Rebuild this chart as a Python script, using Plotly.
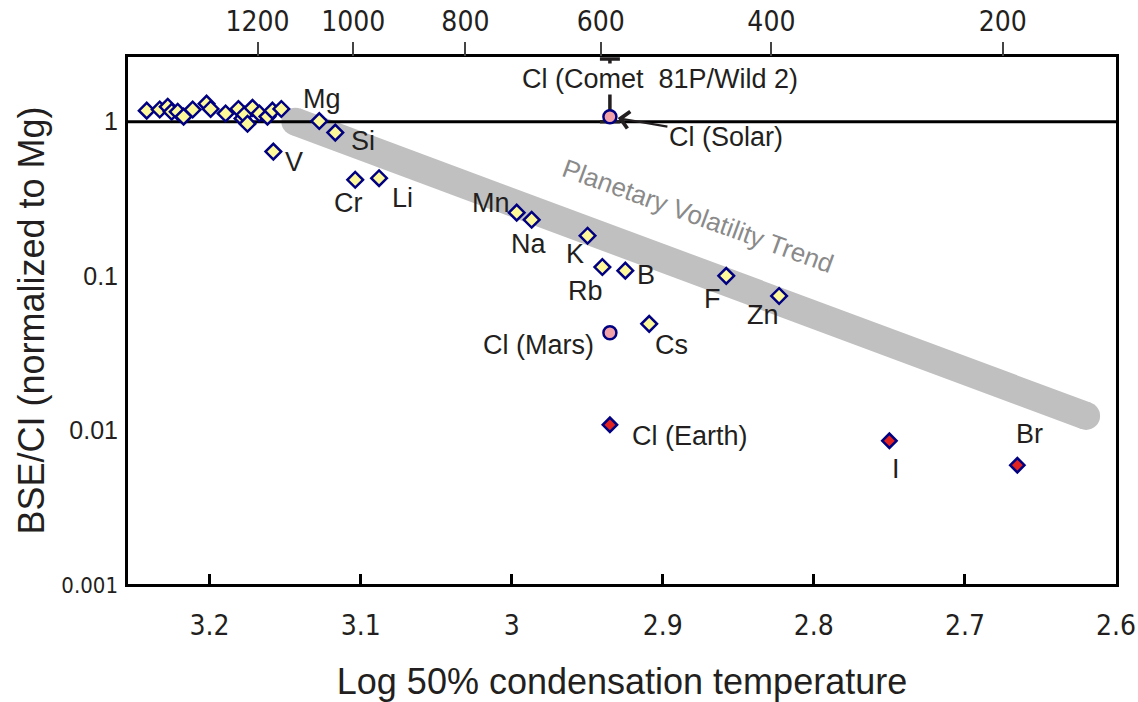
import numpy as np
import plotly.graph_objects as go

# ---------------- data ----------------
x_range = [3.254, 2.6]            # log10 50% condensation temperature (K)
y_log_range = [-3, 0.42]          # log10 of BSE/CI
bottom_tickvals = [3.2, 3.1, 3.0, 2.9, 2.8, 2.7, 2.6]
bottom_ticktext = ["3.2", "3.1", "3", "2.9", "2.8", "2.7", "2.6"]
top_temps_c = [1200, 1000, 800, 600, 400, 200]
y_tickvals = [1, 0.1, 0.01, 0.001]
ref_level = 1.0

# unlabelled refractory elements near 1
cluster_x = [3.2416, 3.2330, 3.2277, 3.2251, 3.2211, 3.2172, 3.2112, 3.2020, 3.1993, 3.1894,
             3.1809, 3.1782, 3.1769, 3.1749, 3.1716, 3.1670, 3.1617, 3.1584, 3.1525]
cluster_y = [1.18, 1.20, 1.25, 1.16, 1.16, 1.08, 1.20, 1.31, 1.21, 1.13,
             1.21, 1.05, 1.11, 0.97, 1.23, 1.13, 1.08, 1.18, 1.21]

elem_names = ["Mg", "Si", "V", "Cr", "Li", "Mn", "Na", "K", "Rb", "B", "F", "Zn", "Cs"]
elem_x = [3.1274, 3.1168, 3.1578, 3.1036, 3.0878, 2.9967, 2.9868, 2.9498, 2.9400, 2.9248, 2.8580, 2.8230, 2.9090]
elem_y = [1.01, 0.85, 0.64, 0.42, 0.43, 0.257, 0.231, 0.182, 0.114, 0.108, 0.100, 0.074, 0.0488]

halogen_names = ["Cl (Earth)", "I", "Br"]
halogen_x = [2.935, 2.750, 2.6653]
halogen_y = [0.0108, 0.0085, 0.0059]

cl_x = 2.935
cl_names = ["Cl (Solar)", "Cl (Mars)"]
cl_y = [1.077, 0.0427]
comet_low = 1.0
comet_high = 2.55

trend_x = [3.1432, 2.6198]
trend_y = [1.0, 0.01233]

# ---------------- styles ----------------
SANS = "Liberation Sans, Arial, sans-serif"
NARROW = "Liberation Sans Narrow, Arial Narrow, DejaVu Sans Condensed, sans-serif"
INK = "#231f20"
NAVY = "#000080"
LBL = 27

# label offsets (px) relative to each marker: (dx, dy_down, xanchor)
elem_offsets = {
    "Mg": (3, -22, "center"), "Si": (28, 8, "center"), "V": (21, 10, "center"),
    "Cr": (-7, 23, "center"), "Li": (23, 20, "center"), "Mn": (-26, -10, "center"),
    "Na": (-3, 24, "center"), "K": (-13, 18, "center"), "Rb": (-17, 24, "center"),
    "B": (21, 4, "center"), "F": (-14, 23, "center"), "Zn": (-16, 19, "center"),
    "Cs": (22, 21, "center"),
    "Cl (Earth)": (20, 11, "left"), "I": (7, 28, "center"), "Br": (12, -31, "center"),
    "Cl (Mars)": (-14, 12, "right"),
}

fig = go.Figure()

# planetary volatility trend band
fig.add_trace(go.Scatter(
    x=trend_x, y=trend_y, mode="lines+markers",
    line=dict(color="#c0c0c0", width=28),
    marker=dict(color="#c0c0c0", size=28, line=dict(width=0)),
    hoverinfo="skip", showlegend=False))

# reference level line (CI = 1)
fig.add_trace(go.Scatter(
    x=x_range, y=[ref_level, ref_level], mode="lines",
    line=dict(color="black", width=3), hoverinfo="skip", showlegend=False))

# comet error bar
fig.add_trace(go.Scatter(
    x=[cl_x], y=[comet_low], mode="markers",
    marker=dict(size=1, color="rgba(0,0,0,0)"),
    error_y=dict(type="data", symmetric=False, array=[comet_high - comet_low],
                 arrayminus=[0], thickness=3.5, width=10, color=INK),
    showlegend=False))

diamond_yellow = dict(symbol="diamond", size=12, color="#fdf99b", line=dict(color=NAVY, width=2.5))
fig.add_trace(go.Scatter(x=cluster_x, y=cluster_y, mode="markers",
                         marker=diamond_yellow, showlegend=False))
fig.add_trace(go.Scatter(x=elem_x, y=elem_y, mode="markers", text=elem_names,
                         marker=diamond_yellow, showlegend=False))
fig.add_trace(go.Scatter(x=halogen_x, y=halogen_y, mode="markers", text=halogen_names,
                         marker=dict(symbol="diamond", size=11, color="#e3231f",
                                     line=dict(color=NAVY, width=2.5)),
                         showlegend=False))
fig.add_trace(go.Scatter(x=[cl_x] * len(cl_y), y=cl_y, mode="markers", text=cl_names,
                         marker=dict(symbol="circle", size=13, color="#f3a1a9",
                                     line=dict(color=NAVY, width=2.5)),
                         showlegend=False))
# dummy trace for the top temperature axis
fig.add_trace(go.Scatter(x=[], y=[], xaxis="x2", showlegend=False))

# labels
def add_label(name, x, y):
    dx, dy, anchor = elem_offsets[name]
    fig.add_annotation(x=x, y=np.log10(y), text=name, showarrow=False,
                       xanchor=anchor, yanchor="middle", xshift=dx, yshift=-dy,
                       font=dict(family=SANS, size=LBL, color=INK))

for n, x, y in zip(elem_names, elem_x, elem_y):
    add_label(n, x, y)
for n, x, y in zip(halogen_names, halogen_x, halogen_y):
    add_label(n, x, y)
add_label("Cl (Mars)", cl_x, cl_y[1])

# Cl (Solar) with arrow
fig.add_annotation(x=cl_x, y=np.log10(cl_y[0]), text="Cl (Solar)", showarrow=True,
                   ax=116, ay=20, arrowhead=4, arrowsize=1.5, arrowwidth=2.2,
                   arrowcolor=INK, standoff=8,
                   font=dict(family=SANS, size=LBL, color=INK))
# comet label
fig.add_annotation(x=cl_x, y=np.log10(comet_high), text="Cl (Comet\u00a0\u00a081P/Wild 2)",
                   showarrow=False, xanchor="center", yanchor="middle",
                   xshift=50, yshift=-20, bgcolor="white", borderpad=0,
                   font=dict(family=SANS, size=LBL, color=INK))
# trend label
fig.add_annotation(x=2.8766, y=np.log10(0.245), text="Planetary Volatility Trend",
                   showarrow=False, textangle=20,
                   font=dict(family=SANS, size=26, color="#8a8a8a"))

y_ticktext = ["1", "0.1", "0.01",
              "<span style='font-family:Liberation Sans Narrow, Arial Narrow, DejaVu Sans Condensed;font-size:22px'>0.001</span>"]

fig.update_layout(
    width=1138, height=702,
    margin=dict(l=128, r=22, t=57, b=118, autoexpand=False),
    plot_bgcolor="white", paper_bgcolor="white",
    showlegend=False,
    xaxis=dict(range=x_range, tickvals=bottom_tickvals, ticktext=bottom_ticktext,
               automargin=False,
               showgrid=False, zeroline=False,
               showline=True, linewidth=3, linecolor="black", mirror=True,
               ticks="inside", ticklen=10, tickwidth=2.5, tickcolor="black",
               tickfont=dict(family=NARROW, size=28, color=INK),
               ticklabelstandoff=14,
               title=dict(text="Log 50% condensation temperature",
                          font=dict(family=SANS, size=36, color=INK), standoff=30)),
    xaxis2=dict(range=x_range, overlaying="x", side="top", anchor="y",
                automargin=False,
                tickvals=[np.log10(t + 273.15) for t in top_temps_c],
                ticktext=[str(t) for t in top_temps_c],
                showgrid=False, zeroline=False, showline=False,
                ticks="outside", ticklen=14, tickwidth=1.5, tickcolor="#444",
                tickfont=dict(family=NARROW, size=28, color=INK)),
    yaxis=dict(type="log", range=y_log_range, tickvals=y_tickvals, ticktext=y_ticktext,
               automargin=False,
               showgrid=False, zeroline=False,
               showline=True, linewidth=3, linecolor="black", mirror=True,
               ticks="", tickfont=dict(family=SANS, size=25, color=INK),
               ticklabelstandoff=2,
               title=dict(text="BSE/CI (normalized to Mg)",
                          font=dict(family=SANS, size=36, color=INK), standoff=6)),
)

fig.write_html("out.html", config={"displayModeBar": False},
               post_script="document.body.style.margin='0';document.body.style.padding='0';")
